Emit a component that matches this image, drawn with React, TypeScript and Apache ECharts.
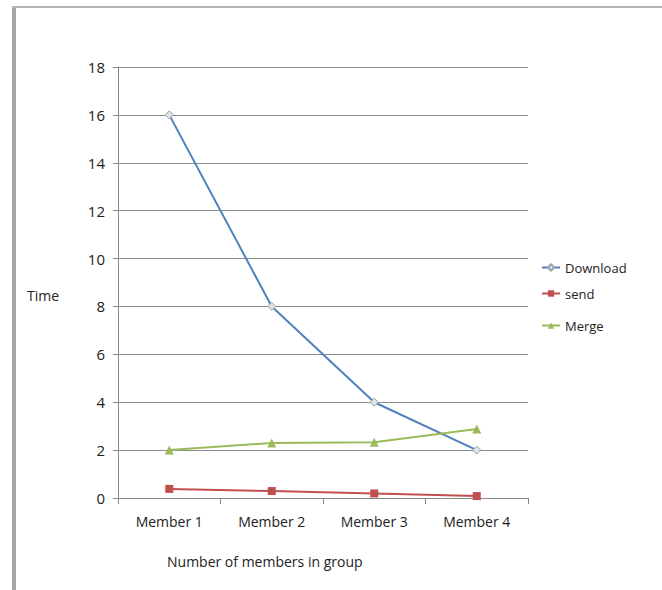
import React, { useEffect, useRef } from "react";
import * as echarts from "echarts";

const categories = ["Member 1", "Member 2", "Member 3", "Member 4"];
const download = [16, 8, 4, 2];
const send = [0.38, 0.29, 0.19, 0.08];
const merge = [2.0, 2.3, 2.33, 2.88];
const seriesNames = ["Download", "send", "Merge"];

const FONT = "Open Sans";

export default function App() {
  const ref = useRef<HTMLDivElement>(null);
  useEffect(() => {
    const chart = echarts.init(ref.current!, null, { renderer: "svg" });
    const legendBase = {
      orient: "vertical",
      left: 536,
      itemWidth: 18,
      itemHeight: 8,
      itemGap: 6,
      textStyle: { fontFamily: FONT, fontSize: 13, color: "#222" },
    };
    chart.setOption({
      animation: false,
      backgroundColor: "#ffffff",
      grid: { left: 118, right: 134, top: 67, bottom: 92, containLabel: false },
      legend: [
        { ...legendBase, top: 256, data: [seriesNames[0]] },
        { ...legendBase, top: 282, data: [seriesNames[1]] },
        { ...legendBase, top: 314, data: [seriesNames[2]] },
      ],
      xAxis: {
        type: "category",
        data: categories,
        boundaryGap: true,
        axisLine: { lineStyle: { color: "#888", width: 1 } },
        axisTick: { show: true, length: 6, lineStyle: { color: "#888" } },
        axisLabel: { fontFamily: FONT, fontSize: 14, color: "#222", margin: 16 },
      },
      yAxis: {
        type: "value",
        min: 0,
        max: 18,
        interval: 2,
        axisLine: { show: true, lineStyle: { color: "#888", width: 1 } },
        axisTick: { show: true, length: 5, lineStyle: { color: "#888" } },
        axisLabel: { fontFamily: FONT, fontSize: 15, color: "#222", margin: 13 },
        splitLine: { lineStyle: { color: "#8c8c8c", width: 1 } },
      },
      graphic: [
        { type: "rect", shape: { x: 12, y: 6, width: 4, height: 590 }, style: { fill: "#a6a6a6" } },
        { type: "rect", shape: { x: 12, y: 6, width: 650, height: 2 }, style: { fill: "#b3b3b3" } },
        { type: "text", left: 27, top: 288, style: { text: "Time", fontFamily: FONT, fontSize: 14, fill: "#222" } },
        { type: "text", left: 167, top: 554, style: { text: "Number of members in group", fontFamily: FONT, fontSize: 14, fill: "#222" } },
      ],
      series: [
        {
          name: seriesNames[0],
          type: "line",
          data: download,
          symbol: "diamond",
          symbolSize: 8,
          lineStyle: { color: "#4F81BD", width: 2 },
          itemStyle: { color: "#dfe3e8", borderColor: "#9aa3ad", borderWidth: 1 },
        },
        {
          name: seriesNames[1],
          type: "line",
          data: send,
          symbol: "rect",
          symbolSize: 8,
          lineStyle: { color: "#C0504D", width: 2 },
          itemStyle: { color: "#C0504D" },
        },
        {
          name: seriesNames[2],
          type: "line",
          data: merge,
          symbol: "triangle",
          symbolSize: 9,
          lineStyle: { color: "#9BBB59", width: 2 },
          itemStyle: { color: "#9BBB59" },
        },
      ],
    });
    return () => chart.dispose();
  }, []);
  return (
    <div
      ref={ref}
      style={{ position: "fixed", left: 0, top: 0, width: 662, height: 590 }}
    />
  );
}
